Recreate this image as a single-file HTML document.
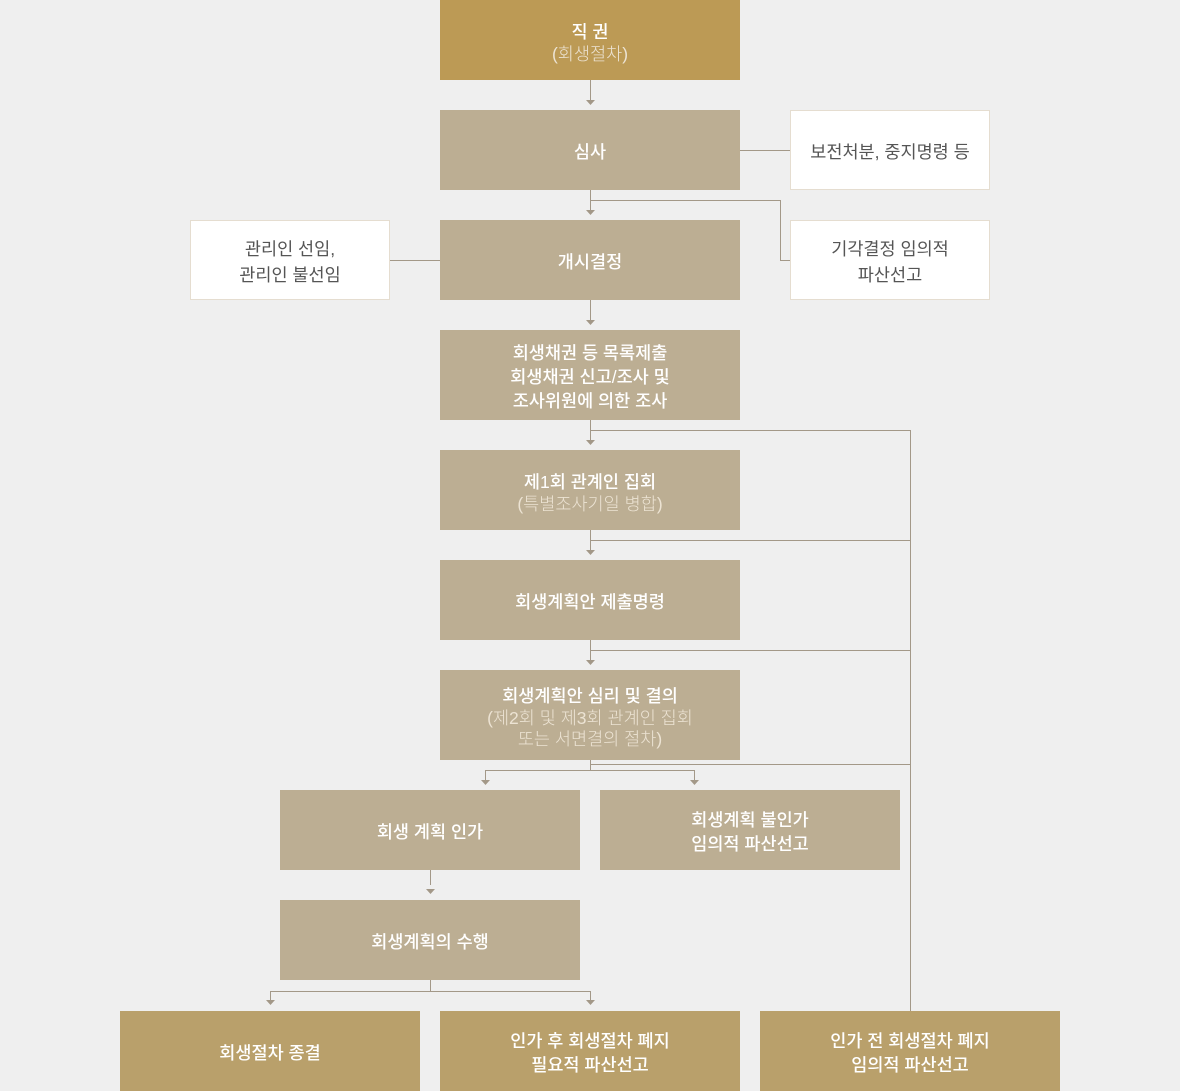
<!DOCTYPE html>
<html><head><meta charset="utf-8"><style>
body{margin:0;width:1180px;height:1091px;background:#efefef;position:relative;overflow:hidden;font-family:"Liberation Sans","Noto Sans CJK KR",sans-serif}
.b{position:absolute;display:flex;flex-direction:column;align-items:center;justify-content:center;text-align:center;color:#fff;font-size:17.5px;line-height:24px;background:#bcae93;font-weight:500;padding-top:4px;box-sizing:border-box}
.g{background:#bc9a55}
.d{background:#b9a06b}
.w{background:#fff;border:1px solid #e5ddd0;color:#555;font-weight:400}
.s{color:#ece3d3;font-weight:300;line-height:21px}
svg{position:absolute;left:0;top:0}
</style></head><body>
<svg width="1180" height="1091" fill="none" stroke="#a39888" stroke-width="1">
<path d="M590.5 80V100M590.5 190V210M590.5 300V320M590.5 420V440M590.5 530V550M590.5 640V660M740 150.5H790M390 260.5H440M590.5 200.5H780.5V260.5H790M590.5 430.5H910.5V1011M590.5 540.5H910.5M590.5 650.5H910.5M590.5 760V764.5H910.5M590.5 764V770.5M485.5 770.5H694.5M485.5 770V780M694.5 770V780M430.5 870V885M430.5 980V991.5M270.5 991.5H590.5M270.5 991V1000M590.5 991V1000"/>
<g fill="#a39888" stroke="none">
<path d="M586 100h9l-4.5 5zM586 210h9l-4.5 5zM586 320h9l-4.5 5zM586 440h9l-4.5 5zM586 550h9l-4.5 5zM586 660h9l-4.5 5zM481 780h9l-4.5 5zM690 780h9l-4.5 5zM426 889h9l-4.5 5zM266 1000h9l-4.5 5zM586 1000h9l-4.5 5z"/>
</g></svg>
<div class="b g" style="left:440px;top:0;width:300px;height:80px"><div>직 권</div><div class="s">(회생절차)</div></div>
<div class="b" style="left:440px;top:110px;width:300px;height:80px">심사</div>
<div class="b w" style="left:790px;top:110px;width:200px;height:80px">보전처분, 중지명령 등</div>
<div class="b w" style="left:190px;top:220px;width:200px;height:80px;line-height:26px">관리인 선임,<br>관리인 불선임</div>
<div class="b" style="left:440px;top:220px;width:300px;height:80px">개시결정</div>
<div class="b w" style="left:790px;top:220px;width:200px;height:80px;line-height:26px">기각결정 임의적<br>파산선고</div>
<div class="b" style="left:440px;top:330px;width:300px;height:90px">회생채권 등 목록제출<br>회생채권 신고/조사 및<br>조사위원에 의한 조사</div>
<div class="b" style="left:440px;top:450px;width:300px;height:80px"><div>제1회 관계인 집회</div><div class="s">(특별조사기일 병합)</div></div>
<div class="b" style="left:440px;top:560px;width:300px;height:80px">회생계획안 제출명령</div>
<div class="b" style="left:440px;top:670px;width:300px;height:90px"><div>회생계획안 심리 및 결의</div><div class="s">(제2회 및 제3회 관계인 집회<br>또는 서면결의 절차)</div></div>
<div class="b" style="left:280px;top:790px;width:300px;height:80px">회생 계획 인가</div>
<div class="b" style="left:600px;top:790px;width:300px;height:80px">회생계획 불인가<br>임의적 파산선고</div>
<div class="b" style="left:280px;top:900px;width:300px;height:80px">회생계획의 수행</div>
<div class="b d" style="left:120px;top:1011px;width:300px;height:80px">회생절차 종결</div>
<div class="b d" style="left:440px;top:1011px;width:300px;height:80px">인가 후 회생절차 폐지<br>필요적 파산선고</div>
<div class="b d" style="left:760px;top:1011px;width:300px;height:80px">인가 전 회생절차 폐지<br>임의적 파산선고</div>
</body></html>
